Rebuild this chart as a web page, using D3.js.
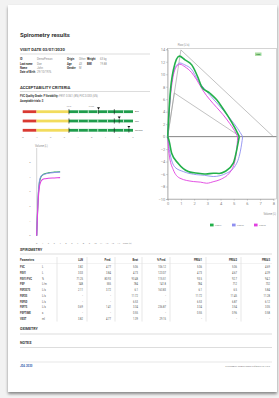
<!DOCTYPE html>
<html><head><meta charset="utf-8">
<script src="https://cdn.jsdelivr.net/npm/d3@7/dist/d3.min.js"></script>
<style>
html,body{margin:0;padding:0;background:#f2f2f2;}
svg{display:block;font-family:Roboto,"Liberation Sans",sans-serif;}
</style></head><body>
<svg id="c" width="279" height="398"></svg>
<script>
// ---------- DATA ----------
const infoRows = [
  ["ID","DemoPerson","Origin","Other","Weight","63 kg"],
  ["Last name","Doe","Age","43","BMI","19.88"],
  ["Name","John","Gender","M","",""]
];
const dobLabel = "Date of Birth", dobValue = "29/10/1976";

const zTicks = [-5,-4,-3,-2,-1,0,1,2,3];
const zZones = [{from:-5,to:-4,color:"#d93a32"},{from:-4,to:-1.645,color:"#f2dc5d"},{from:-1.645,to:3,color:"#1f9d4c"}];
const zGaps = [-0.95,-0.25,0.45,1.15,2.3];
const zLimits = [-1.645,1.645];
const zRows = ["Avg","Min","Second"];
const zValues = [0.5,2.0,2.7];

const vtTimeTicks = [0,1,2,3,4,5,6,7,8,9,10,11,12,13,14];
const vtVolTicks = [0,1,2,3,4,5];
const vtT = [0,0.1,0.25,0.45,0.7,1.0,1.5,2.0,3.0,4.0];
const vtPre1 = [0,1.2,2.6,3.6,4.0,4.15,4.25,4.3,4.35,4.38];
const vtPre2 = [0,1.3,2.8,3.7,4.05,4.15,4.22,4.27,4.32,4.35];
const vtPre3 = [0,1.1,2.4,3.3,3.7,3.85,3.9,3.93,3.95,3.97];

const fvFlowTicks = [-10,-8,-6,-4,-2,0,2,4,6,8,10,12,14];
const fvVolTicks = [0,1,2,3,4,5,6,7,8];
const predOuterVol = [0,1.0,8.0], predOuterFlow = [0,13.9,0];
const predInnerVol = [0,0.5,5.5], predInnerFlow = [0,7.0,0];

const exp1Vol = [0,0.17,0.43,0.88,1.31,1.82,2.32,2.57,3.2,3.71,4.09,4.59,5.1,5.42];
const exp1Flow = [0,6.4,10.7,12.9,12.3,11.5,9.35,8.0,6.95,5.9,4.8,3.2,1.35,0];
const exp2Vol = [0,0.15,0.4,0.7,0.93,1.3,1.8,2.3,2.8,3.3,3.8,4.3,4.8,5.3,5.68];
const exp2Flow = [0,5.5,10,11.5,11.8,11.5,10.8,9.0,7.6,6.4,5.2,4.0,2.7,1.3,0];
const exp3Vol = [0,0.15,0.4,0.7,0.93,1.3,1.8,2.2,2.7,3.2,3.7,4.2,4.7,5.05,5.3];
const exp3Flow = [0,5,9.5,11.3,11.6,11.2,10.3,9.1,7.3,5.9,4.7,3.5,2.1,1.0,0];
const ins1Vol = [0,0.12,0.3,0.8,1.56,2.0,2.45,2.9,3.45,3.9,4.34,4.97,5.35,5.42];
const ins1Flow = [0,-0.8,-2.66,-4.3,-5.6,-5.8,-5.9,-6.0,-5.86,-5.9,-5.6,-4.26,-0.8,0];
const ins2Vol = [0,0.13,0.55,1.18,2.2,2.8,3.45,4.47,5.23,5.6,5.68];
const ins2Flow = [0,-2.1,-4.9,-5.6,-6.1,-6.2,-6.4,-5.86,-4.26,-1.2,0];
const ins3Vol = [0,0.1,0.42,0.93,1.94,2.5,2.95,3.5,3.96,4.85,5.23,5.3];
const ins3Flow = [0,-2.7,-5.3,-6.67,-7.2,-7.3,-7.47,-7.2,-6.9,-5.3,-2.1,0];

const seriesNames = ["PRE#1","PRE#2","PRE#3"];
const seriesColors = ["#22b04a","#8f8ff0","#e040e0"];

const tableHeaders = ["Parameters","","LLN","Pred.","Best","% Pred.","PRE#1","PRE#2","PRE#3"];
const params = ["FVC","FEV1","FEV1/FVC","PEF","FEF2575","FEF25","FEF50","FEF75","PEFTIME","VEXT"];
const units  = ["L","L","%","L/m","L/s","L/s","L/s","L/s","s","ml"];
const colLLN  = ["3.82","3.03","71.25","348","2.11","-","-","0.69","-","3.82"];
const colPred = ["4.77","3.84","80.93","555","3.72","-","-","1.41","-","4.77"];
const colBest = ["5.06","4.73","93.48","784","6.1","11.72","6.53","3.34","0.55","1.39"];
const colPct  = ["106.12","123.07","115.51","141.8","163.83","-","-","236.87","-","29.15"];
const colPre1 = ["5.06","4.73","93.5","784","6.1","11.72","6.53","3.34","0.55","-"];
const colPre2 = ["5.06","4.67","92.7","712","6.5","11.45","6.87","3.54","0.96","-"];
const colPre3 = ["4.69","4.39","94.2","732","5.84","11.28","6.12","3.05","0.58","-"];

// ---------- DRAW ----------
const svg = d3.select("#c");
const defs = svg.append("defs");
const f = defs.append("filter").attr("id","sh").attr("x","-5%").attr("y","-5%").attr("width","110%").attr("height","110%");
f.append("feGaussianBlur").attr("in","SourceAlpha").attr("stdDeviation",1.5);
f.append("feOffset").attr("dx",0).attr("dy",1.5).attr("result","o");
f.append("feComponentTransfer").append("feFuncA").attr("type","linear").attr("slope",0.45);
const fm = f.append("feMerge"); fm.append("feMergeNode"); fm.append("feMergeNode").attr("in","SourceGraphic");
svg.append("rect").attr("x",8).attr("y",5).attr("width",269).attr("height",387).attr("fill","#fff").attr("filter","url(#sh)");

const dark="#333", mid="#555", light="#888", rule="#bbb";
function txt(x,y,s,size,opts={}){
  return svg.append("text").attr("x",x).attr("y",y).text(s).attr("font-size",size)
   .attr("fill",opts.fill||dark).attr("font-weight",opts.bold?"bold":"normal")
   .attr("text-anchor",opts.anchor||"start").attr("dominant-baseline","middle");
}
function hline(x1,x2,y,c,w){svg.append("line").attr("x1",x1).attr("x2",x2).attr("y1",y).attr("y2",y).attr("stroke",c||rule).attr("stroke-width",w||0.5);}

txt(20,35,"Spirometry results",6,{bold:true});
txt(20,49.5,"VISIT DATE 03/07/2020",4.2,{bold:true});
hline(20,150,54);
const infoX=[20,37,67,79,87,100];
const infoY=d3.scaleLinear().domain([0,3]).range([59.5,72.5]);
infoRows.forEach((r,i)=>r.forEach((s,j)=>{ if(s) txt(infoX[j],infoY(i),s,2.7,{bold:j%2===0,fill:j%2===0?dark:light}); }));
txt(20,infoY(3),dobLabel,2.7,{bold:true}); txt(37,infoY(3),dobValue,2.7,{fill:light});

txt(20,87.5,"ACCEPTABILITY CRITERIA",4.2,{bold:true});
hline(20,150,91.5);
const t1=svg.append("text").attr("x",20).attr("y",96).attr("font-size",2.7).attr("dominant-baseline","middle").attr("fill",dark);
t1.append("tspan").attr("font-weight","bold").text("FVC Quality Grade: F   Variability: ");
t1.append("tspan").attr("fill",light).text("FEV1 0.061 (8%)  FVC 0.033 (6%)");
txt(20,101,"Acceptable trials: 3",2.7,{bold:true});

const zx = d3.scaleLinear().domain([-5,3]).range([22.7,133]);
const zy = d3.scalePoint().domain(zRows).range([111.7,130.3]);
txt(zx(-1.645),106,"LLN",2.4,{anchor:"middle",fill:light});
txt(zx(0),106,"Pred.",2.4,{anchor:"middle",fill:light});
zRows.forEach((r,i)=>{
  const y=zy(r);
  svg.selectAll(null).data(zZones).enter().append("rect")
    .attr("x",d=>zx(d.from)).attr("width",d=>zx(d.to)-zx(d.from))
    .attr("y",y-1.4).attr("height",2.8).attr("fill",d=>d.color);
  svg.selectAll(null).data(zGaps).enter().append("rect")
    .attr("x",d=>zx(d)-0.35).attr("width",0.7).attr("y",y-1.4).attr("height",2.8).attr("fill","#fff");
  svg.selectAll(null).data(zLimits).enter().append("line")
    .attr("x1",d=>zx(d)).attr("x2",d=>zx(d)).attr("y1",y-2.6).attr("y2",y+2.6).attr("stroke","#111").attr("stroke-width",0.6);
  const v=zValues[i];
  svg.append("path").attr("d",`M${zx(v)-1.5},${y-4.4}L${zx(v)+1.5},${y-4.4}L${zx(v)},${y-2.2}Z`).attr("fill","#111");
  svg.append("line").attr("x1",zx(v)).attr("x2",zx(v)).attr("y1",y-2.2).attr("y2",y+2.4).attr("stroke","#111").attr("stroke-width",0.5);
  txt(135,y,r,2.3,{fill:mid});
});
svg.selectAll(null).data(zTicks).enter().append("text")
  .attr("x",d=>zx(d)).attr("y",137.5).text(d=>d).attr("font-size",2.4).attr("fill",light)
  .attr("text-anchor","middle").attr("dominant-baseline","middle");

// ---- Volume-time ----
const vtx = d3.scaleLinear().domain([0,15]).range([36.7,124.5]);
const vty = d3.scaleLinear().domain([0,6]).range([235.7,148]);
txt(35,146,"Volume (L)",2.6,{fill:light});
svg.append("line").attr("x1",vtx(0)).attr("x2",vtx(0)).attr("y1",vty(6)).attr("y2",vty(0)).attr("stroke","#bbb").attr("stroke-width",0.6);
svg.selectAll(null).data(vtVolTicks).enter().append("text").attr("x",vtx(0)-6).attr("y",d=>vty(d))
  .text(d=>d).attr("font-size",2.4).attr("fill",light).attr("text-anchor","end").attr("dominant-baseline","middle");
svg.selectAll(null).data(vtTimeTicks).enter().append("text").attr("x",d=>vtx(d)).attr("y",243.5)
  .text(d=>d).attr("font-size",2.4).attr("fill",light).attr("text-anchor","middle").attr("dominant-baseline","middle");
txt(vtx(14.7),243.5,"Time (s)",2.4,{fill:light});
const vtLine = d3.line().x(d=>vtx(d[0])).y(d=>vty(d[1])).curve(d3.curveMonotoneX);
[[vtPre1,0],[vtPre2,1],[vtPre3,2]].forEach(([arr,k])=>{
  svg.append("path").attr("d",vtLine(vtT.map((t,i)=>[t,arr[i]]))).attr("fill","none")
    .attr("stroke",seriesColors[k]).attr("stroke-width",1.1).attr("opacity",k===1?0.85:1);
});

// ---- Flow-volume ----
const fx = d3.scaleLinear().domain([0,8]).range([167.7,273.3]);
const fy = d3.scaleLinear().domain([-10,14]).range([199,49.3]);
svg.append("rect").attr("x",fx(0)).attr("y",fy(14)-1).attr("width",276.5-fx(0)).attr("height",fy(-10)-fy(14)+1)
  .attr("fill","none").attr("stroke","#aaa").attr("stroke-width",0.5);
txt(fx(0)+10,45,"Flow (L/s)",2.6,{fill:light});
const ya = svg.append("g").attr("transform",`translate(${fx(0)},0)`)
  .call(d3.axisLeft(fy).tickValues(fvFlowTicks).tickSize(1.5).tickPadding(1));
const xa = svg.append("g").attr("transform",`translate(0,${fy(-10)})`)
  .call(d3.axisBottom(fx).tickValues(fvVolTicks).tickSize(1.5).tickPadding(2));
[ya,xa].forEach(g=>{g.selectAll("text").attr("font-size",4).attr("fill",light).attr("font-family","Roboto,sans-serif");
  g.selectAll("line,path").attr("stroke","#999").attr("stroke-width",0.5);});
svg.append("line").attr("x1",fx(0)).attr("x2",276.5).attr("y1",fy(0)).attr("y2",fy(0)).attr("stroke","#666").attr("stroke-width",0.8);
const fl = d3.line().x(d=>fx(d[0])).y(d=>fy(d[1]));
const zip=(a,b)=>a.map((v,i)=>[v,b[i]]);
svg.append("path").attr("d",fl(zip(predOuterVol,predOuterFlow))).attr("fill","none").attr("stroke","#999").attr("stroke-width",0.6);
svg.append("path").attr("d",fl(zip(predInnerVol,predInnerFlow))).attr("fill","none").attr("stroke","#999").attr("stroke-width",0.6);
const fc = d3.line().x(d=>fx(d[0])).y(d=>fy(d[1])).curve(d3.curveMonotoneX);
const loops=[[exp2Vol,exp2Flow,ins2Vol,ins2Flow,1,0.9],[exp3Vol,exp3Flow,ins3Vol,ins3Flow,2,0.9],[exp1Vol,exp1Flow,ins1Vol,ins1Flow,0,1.6]];
loops.forEach(([ev,ef,iv,iff,k,w])=>{
  svg.append("path").attr("d",fc(zip(ev,ef))).attr("fill","none").attr("stroke",seriesColors[k]).attr("stroke-width",w);
  svg.append("path").attr("d",fc(zip(iv,iff))).attr("fill","none").attr("stroke",seriesColors[k]).attr("stroke-width",w);
});
svg.append("rect").attr("x",255).attr("y",52.5).attr("width",6.5).attr("height",3.4).attr("fill","#a8dca0");
txt(258.25,54.3,"PRE",2.3,{anchor:"middle",fill:"#1d7a32",bold:true});
txt(276,214,"Volume (L)",2.6,{anchor:"end",fill:light});
const lgx = d3.scalePoint().domain(seriesNames).range([210,254]);
seriesNames.forEach((n,i)=>{
  svg.append("rect").attr("x",lgx(n)).attr("y",223.6).attr("width",3.6).attr("height",2.8).attr("fill",seriesColors[i]);
  txt(lgx(n)+5,225,n,2.3,{fill:light});
});

// ---- Table ----
txt(20,250,"SPIROMETRY",3.6,{bold:true});
hline(20,272,254);
const seps=[57,87,115,142,170,206,241];
const rights=[83,111,138,166,202,237,270];
const ry = d3.scaleLinear().domain([0,9]).range([267.7,319]);
svg.selectAll(null).data(seps).enter().append("line").attr("x1",d=>d).attr("x2",d=>d)
  .attr("y1",257).attr("y2",321.5).attr("stroke","#ccc").attr("stroke-width",0.5);
txt(20,260.7,tableHeaders[0],2.7,{bold:true});
tableHeaders.slice(2).forEach((h,i)=>txt(rights[i],260.7,h,2.7,{bold:true,anchor:"end"}));
hline(20,272,263.5,"#ddd",0.4);
const cols=[colLLN,colPred,colBest,colPct,colPre1,colPre2,colPre3];
params.forEach((p,r)=>{
  txt(20,ry(r),p,2.6,{bold:true});
  txt(42,ry(r),units[r],2.6,{fill:mid});
  cols.forEach((c,j)=>txt(rights[j],ry(r),c[r],2.6,{anchor:"end",fill:mid}));
});
txt(20,329.5,"OXIMETRY",3.6,{bold:true});
hline(20,272,334);
txt(20,343.5,"NOTES",3.6,{bold:true});
hline(20,272,347.5);
hline(20,272,362,"#ccc",0.5);
txt(20,366.5,"JDA 2020",2.8,{bold:true,fill:"#3b5fb0"});
txt(270,366.5,"SPIROBANK SMART DEMO   Software Ver 2.0.0",2.2,{anchor:"end",fill:light});
</script></body></html>
